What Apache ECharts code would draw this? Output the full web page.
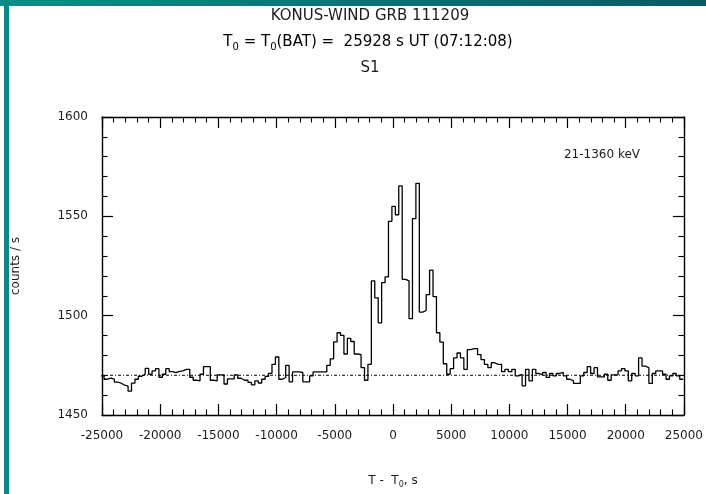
<!DOCTYPE html>
<html>
<head>
<meta charset="utf-8">
<script src="https://cdn.jsdelivr.net/npm/echarts@6/dist/echarts.min.js"></script>
<style>
  html, body { margin: 0; padding: 0; background: #ffffff; }
  #chart { width: 706px; height: 494px; }
</style>
</head>
<body>
<div id="chart"></div>
<script>
// Konus-Wind S1 light curve, 21-1360 keV, binned count rate around T0
const binWidth = 294.4;          // s
const firstBinStart = -25114;    // s, relative to T0
const backgroundLevel = 1470;    // counts / s

const countRate = [
  1469.7, 1468, 1468.5, 1468, 1466.5, 1466, 1465, 1464.5, 1462, 1466,
  1468, 1469.5, 1470.5, 1473.5, 1470.5, 1472.2, 1473.3, 1469, 1470.5, 1473.3,
  1471.8, 1471.3, 1472, 1472.2, 1473, 1473, 1469, 1467.5, 1467.2, 1470.5,
  1474.3, 1474.3, 1467.5, 1467.2, 1470.2, 1470.2, 1465.6, 1468.2, 1468.2, 1470.2,
  1468.5, 1467.5, 1467.5, 1466.4, 1465.2, 1467.2, 1466.1, 1468, 1469.4, 1471,
  1475.5, 1479.2, 1468, 1468.9, 1475, 1466.7, 1471.7, 1471.7, 1471.4, 1466.7,
  1466.7, 1469.7, 1471.7, 1471.7, 1471.7, 1471.7, 1475, 1478.3, 1486.8, 1491.4,
  1490.1, 1480.7, 1488.6, 1487, 1480.7, 1480.4, 1473.8, 1467.5, 1475.5, 1517.5,
  1509, 1496.4, 1516.6, 1519.5, 1547.5, 1555, 1550.8, 1565.3, 1518.3, 1517.5,
  1498.5, 1548.8, 1566.6, 1501.8, 1502.6, 1510.6, 1522.9, 1509.6, 1491.4, 1486.7,
  1475.8, 1470.5, 1473.3, 1478.8, 1481.2, 1478.8, 1473, 1482.9, 1483.4, 1483.4,
  1480.4, 1477.9, 1475.5, 1473.8, 1476.3, 1475.5, 1475.5, 1471.8, 1473, 1471.8,
  1473, 1469.7, 1470.5, 1464.7, 1473, 1467.2, 1473, 1470.9, 1470.2, 1471.4,
  1468.9, 1470.9, 1469.7, 1470.9, 1471.4, 1469.7, 1468, 1467.2, 1465.9, 1465.9,
  1469.7, 1471.4, 1474.3, 1470.9, 1473.8, 1469.2, 1469.2, 1470.5, 1467.5, 1470.2,
  1470.2, 1472.2, 1473.3, 1472.2, 1467.2, 1470.9, 1469.7, 1478.8, 1474.6, 1473.8,
  1465.9, 1470.9, 1472.2, 1472.2, 1470.5, 1468, 1469.7, 1470.9, 1469.7, 1468
];

const xRange = [-25000, 25000];
const xStep = 5000;
const yRange = [1450, 1600];
const yStep = 50;

const titleLines = ['KONUS-WIND GRB 111209', '{n|T}{s|0}{n| = T}{s|0}{n|(BAT) =  25928 s UT (07:12:08)}', 'S1'];
const bandLabel = '21-1360 keV';

// histogram steps: one point per bin start, plus the closing edge
const stepData = countRate.map((v, i) => [firstBinStart + i * binWidth, v]);
stepData.push([firstBinStart + countRate.length * binWidth, countRate[countRate.length - 1]]);

const FONT = '"DejaVu Sans", sans-serif';
const INK = '#1c1c1c';

const richSub = {
  n: { fontSize: 15, fontFamily: FONT, color: INK },
  s: { fontSize: 10, fontFamily: FONT, color: INK, padding: [10, 0, 0, 0] }
};

const plainNumber = (v) => String(v);

const chart = echarts.init(document.getElementById('chart'), null, { renderer: 'canvas' });

function axisStyle() {
  return {
    axisLine: { show: true, onZero: false, lineStyle: { color: '#000', width: 1.4 } },
    axisTick: { show: true, inside: true, length: 11, lineStyle: { color: '#000', width: 1.2 } },
    minorTick: { show: true, splitNumber: 5, length: 5.5, lineStyle: { color: '#000', width: 1.1 } },
    splitLine: { show: false },
    minorSplitLine: { show: false }
  };
}

chart.setOption({
  animation: false,
  backgroundColor: '#ffffff',
  grid: { left: 102, right: 18, top: 117, bottom: 73, containLabel: false },
  xAxis: [
    Object.assign({
      type: 'value', min: xRange[0], max: xRange[1], interval: xStep,
      position: 'bottom',
      axisLabel: { show: true, margin: 15, color: INK, fontSize: 12, fontFamily: FONT, formatter: plainNumber },
      name: '{n|T -  T}{s|0}{n|, s}',
      nameLocation: 'middle', nameGap: 58,
      nameTextStyle: { rich: { n: { fontSize: 12, fontFamily: FONT, color: INK }, s: { fontSize: 8, fontFamily: FONT, color: INK, padding: [8, 0, 0, 0] } } }
    }, axisStyle()),
    Object.assign({
      type: 'value', min: xRange[0], max: xRange[1], interval: xStep,
      position: 'top', axisLabel: { show: false }
    }, axisStyle())
  ],
  yAxis: [
    Object.assign({
      type: 'value', min: yRange[0], max: yRange[1], interval: yStep,
      position: 'left',
      axisLabel: { show: true, margin: 14, color: INK, fontSize: 12, fontFamily: FONT, formatter: plainNumber },
      name: 'counts / s', nameLocation: 'middle', nameGap: 80, nameRotate: 90,
      nameTextStyle: { fontSize: 12, fontFamily: FONT, color: INK }
    }, axisStyle()),
    Object.assign({
      type: 'value', min: yRange[0], max: yRange[1], interval: yStep,
      position: 'right', axisLabel: { show: false }
    }, axisStyle())
  ],
  graphic: [
    // slide frame: teal band along the top and left edges
    {
      type: 'rect', shape: { x: 0, y: 0, width: 706, height: 6 }, silent: true,
      style: { fill: new echarts.graphic.LinearGradient(0, 0, 1, 0, [
        { offset: 0, color: '#0b8c8a' }, { offset: 1, color: '#0a5a64' }
      ]) }
    },
    {
      type: 'rect', shape: { x: 4, y: 0, width: 5, height: 494 }, silent: true,
      style: { fill: '#0d8985' }
    },
    {
      type: 'text', x: 370, y: 16, silent: true,
      style: { text: titleLines[0], font: '15px ' + FONT, fill: INK, textAlign: 'center', textVerticalAlign: 'middle' }
    },
    {
      type: 'text', x: 368, y: 42, silent: true,
      style: { text: titleLines[1], rich: richSub, textAlign: 'center', textVerticalAlign: 'middle' }
    },
    {
      type: 'text', x: 370, y: 68, silent: true,
      style: { text: titleLines[2], font: '15px ' + FONT, fill: INK, textAlign: 'center', textVerticalAlign: 'middle' }
    },
    {
      type: 'text', x: 602, y: 155, silent: true,
      style: { text: bandLabel, font: '12px ' + FONT, fill: INK, textAlign: 'center', textVerticalAlign: 'middle' }
    }
  ],
  series: [
    {
      name: 'background',
      type: 'line',
      xAxisIndex: 0, yAxisIndex: 0,
      data: [[xRange[0], backgroundLevel], [xRange[1], backgroundLevel]],
      symbol: 'none',
      lineStyle: { color: '#000', width: 1, type: [3, 2, 1, 2] },
      z: 1
    },
    {
      name: 'S1',
      type: 'line',
      xAxisIndex: 0, yAxisIndex: 0,
      step: 'end',
      data: stepData,
      symbol: 'none',
      clip: true,
      lineStyle: { color: '#000', width: 1.3 },
      z: 2
    }
  ]
});
</script>
</body>
</html>
